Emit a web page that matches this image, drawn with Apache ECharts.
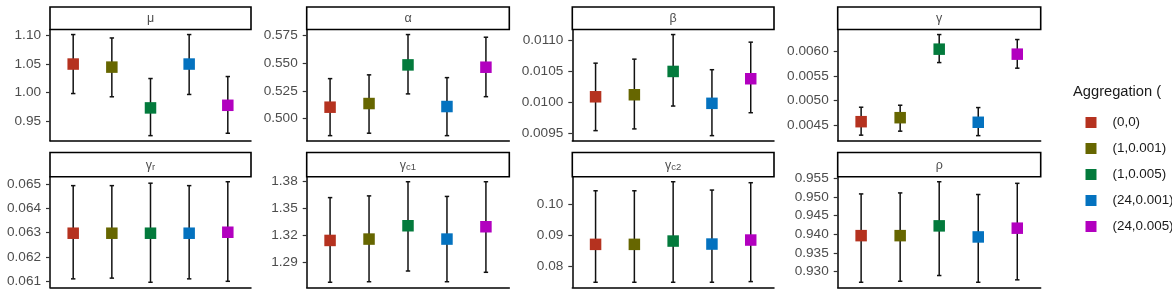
<!DOCTYPE html>
<html>
<head>
<meta charset="utf-8">
<script src="https://cdn.jsdelivr.net/npm/echarts@6/dist/echarts.min.js"></script>
<style>
html,body{margin:0;padding:0;background:#fff;}
#chart{width:1172px;height:295px;}
</style>
</head>
<body>
<div id="chart"></div>
<script>
// ---------- DATA ----------
const categories = ['(0,0)', '(1,0.001)', '(1,0.005)', '(24,0.001)', '(24,0.005)'];
const legendTitle = 'Aggregation (';

const muEst = [1.050, 1.0446, 0.9727, 1.050, 0.9773];
const muLo  = [0.998, 0.9923, 0.9238, 0.9964, 0.928];
const muHi  = [1.102, 1.096, 1.0245, 1.102, 1.028];
const muTicks = ['0.95', '1.00', '1.05', '1.10'];

const alphaEst = [0.5103, 0.5136, 0.5485, 0.5109, 0.5464];
const alphaLo  = [0.4846, 0.4868, 0.5223, 0.4846, 0.5198];
const alphaHi  = [0.5361, 0.5395, 0.5759, 0.5370, 0.5735];
const alphaTicks = ['0.500', '0.525', '0.550', '0.575'];

const betaEst = [0.01009, 0.010123, 0.0105, 0.009984, 0.010382];
const betaLo  = [0.009542, 0.00957, 0.00994, 0.009461, 0.009832];
const betaHi  = [0.010634, 0.010699, 0.011097, 0.010528, 0.010974];
const betaTicks = ['0.0095', '0.0100', '0.0105', '0.0110'];

const gammaEst = [0.00458, 0.00466, 0.006034, 0.004568, 0.005934];
const gammaLo  = [0.00431, 0.00439, 0.005765, 0.0043, 0.005653];
const gammaHi  = [0.00487, 0.00491, 0.006327, 0.004863, 0.006227];
const gammaTicks = ['0.0045', '0.0050', '0.0055', '0.0060'];

const gammaREst = [0.06298, 0.06298, 0.06298, 0.06298, 0.06302];
const gammaRLo  = [0.06111, 0.06114, 0.06097, 0.06111, 0.06101];
const gammaRHi  = [0.06493, 0.06493, 0.06503, 0.06493, 0.06509];
const gammaRTicks = ['0.061', '0.062', '0.063', '0.064', '0.065'];

const gammaC1Est = [1.3145, 1.316, 1.3307, 1.316, 1.3296];
const gammaC1Lo  = [1.2684, 1.269, 1.2808, 1.269, 1.2794];
const gammaC1Hi  = [1.3617, 1.3636, 1.3792, 1.363, 1.3792];
const gammaC1Ticks = ['1.29', '1.32', '1.35', '1.38'];

const gammaC2Est = [0.08707, 0.08707, 0.08814, 0.08717, 0.08847];
const gammaC2Lo  = [0.07479, 0.07479, 0.07479, 0.0748, 0.07501];
const gammaC2Hi  = [0.10443, 0.10443, 0.10736, 0.10466, 0.10704];
const gammaC2Ticks = ['0.08', '0.09', '0.10'];

const rhoEst = [0.93962, 0.93962, 0.94224, 0.93927, 0.94162];
const rhoLo  = [0.92711, 0.92738, 0.92892, 0.92711, 0.92776];
const rhoHi  = [0.95081, 0.95108, 0.95408, 0.95065, 0.95365];
const rhoTicks = ['0.930', '0.935', '0.940', '0.945', '0.950', '0.955'];

// ---------- STYLE / LAYOUT ----------
const palette = ['#B5321F', '#666600', '#037A3C', '#0472BF', '#B200BF'];
const FONT = '"Liberation Sans", Arial, sans-serif';

const panels = [
  {label: '{g|μ}', est: muEst, lo: muLo, hi: muHi, ticks: muTicks},
  {label: '{g|α}', est: alphaEst, lo: alphaLo, hi: alphaHi, ticks: alphaTicks},
  {label: '{g|β}', est: betaEst, lo: betaLo, hi: betaHi, ticks: betaTicks},
  {label: '{g|γ}', est: gammaEst, lo: gammaLo, hi: gammaHi, ticks: gammaTicks},
  {label: '{g|γ}{s|r}', est: gammaREst, lo: gammaRLo, hi: gammaRHi, ticks: gammaRTicks},
  {label: '{g|γ}{s|c1}', est: gammaC1Est, lo: gammaC1Lo, hi: gammaC1Hi, ticks: gammaC1Ticks},
  {label: '{g|γ}{s|c2}', est: gammaC2Est, lo: gammaC2Lo, hi: gammaC2Hi, ticks: gammaC2Ticks},
  {label: '{g|ρ}', est: rhoEst, lo: rhoLo, hi: rhoHi, ticks: rhoTicks}
];

const colLeft  = [50, 306.7, 572.3, 837.7];
const colRight = [251, 509.3, 774, 1040.7];
const rows = [
  {stripTop: 7, stripH: 22.5, plotTop: 29.5, plotH: 111.2},
  {stripTop: 152.5, stripH: 24.2, plotTop: 176.7, plotH: 110.6}
];

const grids = [], xAxes = [], yAxes = [], series = [], graphics = [];

panels.forEach((p, i) => {
  const r = rows[Math.floor(i / 4)];
  const c = i % 4;
  const left = colLeft[c], width = colRight[c] - colLeft[c];
  grids.push({left: left, top: r.plotTop, width: width, height: r.plotH, containLabel: false});

  xAxes.push({
    type: 'value', gridIndex: i, min: 0.4, max: categories.length + 0.6,
    axisLine: {show: true, onZero: false, lineStyle: {color: '#000', width: 1.5}},
    axisTick: {show: false}, axisLabel: {show: false}, splitLine: {show: false}
  });

  const dMin = Math.min(...p.lo), dMax = Math.max(...p.hi);
  const pad = (dMax - dMin) * 0.05;
  const tickVals = p.ticks.map(Number);
  yAxes.push({
    type: 'value', gridIndex: i, min: dMin - pad, max: dMax + pad,
    axisLine: {show: true, onZero: false, lineStyle: {color: '#000', width: 1.5}},
    axisTick: {show: true, length: 4, customValues: tickVals, lineStyle: {color: '#333', width: 1.2}},
    axisLabel: {
      show: true, customValues: tickVals, margin: 9,
      color: '#4D4D4D', fontSize: 13.6, fontFamily: FONT,
      formatter: v => {
        const t = p.ticks.find(s => Math.abs(Number(s) - v) < 1e-9);
        return t === undefined ? '' : t;
      }
    },
    splitLine: {show: false}
  });

  // error bars
  series.push({
    type: 'custom', xAxisIndex: i, yAxisIndex: i, z: 1, silent: true,
    data: categories.map((_, g) => [g + 1, p.lo[g], p.hi[g]]),
    renderItem: (params, api) => {
      const x = api.value(0);
      const a = api.coord([x, api.value(1)]);
      const b = api.coord([x, api.value(2)]);
      const st = {stroke: '#111', lineWidth: 1.5};
      return {
        type: 'group', children: [
          {type: 'line', shape: {x1: a[0], y1: a[1], x2: b[0], y2: b[1]}, style: st},
          {type: 'line', shape: {x1: a[0] - 2.2, y1: a[1], x2: a[0] + 2.2, y2: a[1]}, style: st},
          {type: 'line', shape: {x1: b[0] - 2.2, y1: b[1], x2: b[0] + 2.2, y2: b[1]}, style: st}
        ]
      };
    }
  });

  // points
  categories.forEach((name, g) => {
    series.push({
      type: 'scatter', name: name, xAxisIndex: i, yAxisIndex: i, z: 3,
      symbol: 'rect', symbolSize: 11.5,
      itemStyle: {color: palette[g], opacity: 1},
      data: [[g + 1, p.est[g]]]
    });
  });

  // strip
  graphics.push({
    type: 'rect', shape: {x: left, y: r.stripTop, width: width, height: r.stripH},
    style: {fill: '#fff', stroke: '#000', lineWidth: 1.6}, z: 10
  });
  graphics.push({
    type: 'text', x: left + width / 2, y: r.stripTop + r.stripH / 2 + 0.5, z: 11,
    style: {
      text: p.label, align: 'center', verticalAlign: 'middle',
      rich: {
        g: {fontSize: 12.5, fontFamily: FONT, fill: '#4D4D4D', color: '#4D4D4D', lineHeight: 16},
        s: {fontSize: 9.5, fontFamily: FONT, fill: '#4D4D4D', color: '#4D4D4D', lineHeight: 16, padding: [5, 0, 0, 0]}
      }
    }
  });
});

graphics.push({
  type: 'text', x: 1073, y: 92, z: 11,
  style: {text: legendTitle, fontSize: 14.7, fontFamily: FONT, fill: '#1a1a1a', verticalAlign: 'middle', align: 'left'}
});

const option = {
  animation: false,
  backgroundColor: '#fff',
  grid: grids,
  xAxis: xAxes,
  yAxis: yAxes,
  series: series,
  legend: {
    orient: 'vertical', left: 1080.5, top: 111,
    data: categories, icon: 'rect',
    itemWidth: 11, itemHeight: 11, itemGap: 13.0,
    textStyle: {fontSize: 13.4, fontFamily: FONT, color: '#1a1a1a', padding: [0, 0, 0, 11]},
    selectedMode: false
  },
  graphic: graphics
};

const chart = echarts.init(document.getElementById('chart'), null, {renderer: 'canvas'});
chart.setOption(option);
</script>
</body>
</html>
